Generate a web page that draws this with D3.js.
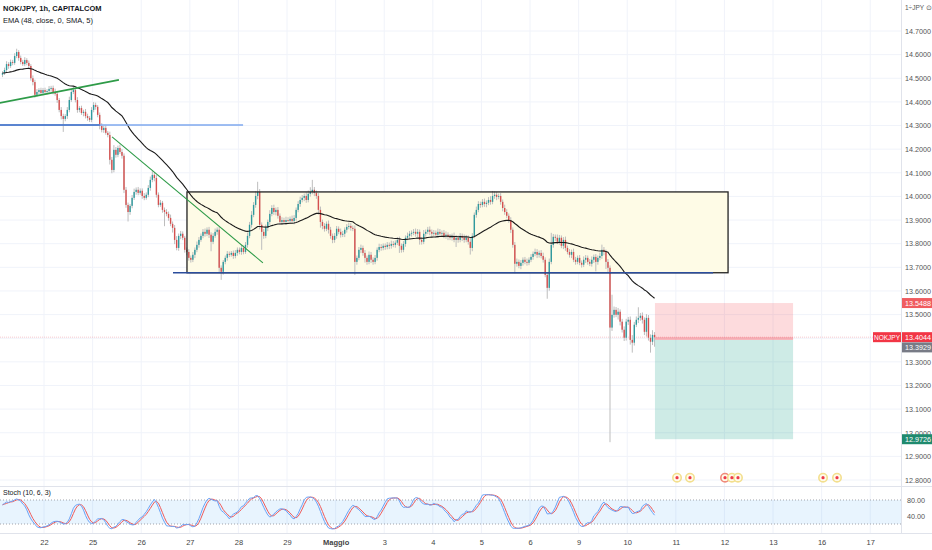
<!DOCTYPE html>
<html>
<head>
<meta charset="utf-8">
<script src="https://cdn.jsdelivr.net/npm/d3@7"></script>
<style>
  body { margin: 0; background: #fff; }
  svg { display: block; font-family: "Liberation Sans", "Noto Sans", sans-serif; }
</style>
</head>
<body>
<script>
// ---- data (hourly candles, one row per trading day) ----
// close of each bar; open = previous close (FX feed)
let closes = [
  14.522,14.535,14.560,14.552,14.569,14.565,14.594,14.611,14.586,14.569,14.560,14.577,14.565,14.552,14.500,14.484,14.430,14.442,14.450,14.438,14.450,
  14.442,14.446,14.455,14.459,14.442,14.434,14.408,14.366,14.340,14.328,14.340,14.366,14.408,14.442,14.450,14.408,14.366,14.374,14.353,14.358,14.340,14.332,14.324,14.366,
  14.387,14.379,14.345,14.298,14.281,14.290,14.269,14.260,14.155,14.112,14.197,14.176,14.205,14.188,14.172,14.028,13.964,13.934,13.960,13.994,14.019,14.028,14.015,14.024,
  14.002,13.994,14.007,14.036,14.070,14.091,14.078,14.007,13.964,13.973,13.943,13.934,13.926,13.909,13.884,13.867,13.816,13.782,13.833,13.842,13.825,13.774,13.765,13.740,
  13.732,13.753,13.774,13.795,13.816,13.833,13.850,13.842,13.859,13.838,13.808,13.833,13.850,13.859,13.698,13.681,13.723,13.740,13.757,13.753,13.761,13.748,13.761,13.774,
  13.765,13.782,13.765,13.795,13.833,13.880,13.922,13.964,14.002,14.019,13.880,13.850,13.833,13.867,13.892,13.926,13.951,13.934,13.943,13.918,13.892,13.900,13.892,13.900,
  13.896,13.905,13.896,13.909,13.943,13.968,13.985,13.994,14.002,13.985,14.011,14.019,14.028,14.015,14.002,13.943,13.892,13.875,13.863,13.884,13.859,13.833,13.816,13.833,
  13.863,13.850,13.838,13.842,13.859,13.871,13.875,13.867,13.863,13.723,13.740,13.774,13.782,13.761,13.740,13.723,13.753,13.732,13.723,13.740,13.774,13.786,13.782,13.791,
  13.786,13.795,13.791,13.799,13.795,13.804,13.816,13.791,13.774,13.799,13.825,13.833,13.842,13.846,13.850,13.842,13.850,13.816,13.808,13.842,13.850,13.859,13.850,13.842,
  13.846,13.838,13.850,13.842,13.846,13.833,13.838,13.829,13.825,13.833,13.816,13.825,13.816,13.833,13.825,13.816,13.825,13.808,13.782,13.833,13.922,13.943,13.968,13.964,
  13.977,13.968,13.973,13.985,13.977,14.002,14.007,13.998,14.002,13.977,13.951,13.934,13.918,13.900,13.859,13.795,13.715,13.723,13.706,13.719,13.732,13.723,13.719,13.732,
  13.744,13.757,13.765,13.753,13.761,13.748,13.732,13.668,13.613,13.723,13.795,13.829,13.825,13.808,13.825,13.791,13.816,13.782,13.765,13.753,13.765,13.732,13.723,13.740,
  13.719,13.711,13.732,13.740,13.723,13.715,13.732,13.744,13.723,13.740,13.748,13.774,13.765,13.723,13.698,13.445,13.499,13.520,13.499,13.512,13.470,13.436,13.402,13.470,
  13.478,13.393,13.381,13.457,13.478,13.486,13.495,13.478,13.427,13.486,13.402,13.385,13.414,13.404
];
let firstOpen = 14.515;
// upper / lower wick length beyond the body, in thousandths of a yen
let upWick = [
  8,10,12,8,10,9,12,14,8,10,9,12,8,10,8,12,10,12,8,10,9,
  10,8,12,9,10,14,10,8,12,10,8,12,14,10,16,10,12,8,10,9,12,10,8,12,
  12,10,8,10,12,9,10,8,14,12,20,12,10,14,12,10,12,10,8,12,14,10,12,10,
  10,12,10,12,14,16,10,12,10,12,8,10,12,10,14,10,12,16,10,12,10,8,10,12,
  10,12,10,14,12,10,12,14,10,12,10,12,14,10,12,10,8,10,12,10,8,10,12,10,
  10,12,10,12,14,12,16,12,20,43,12,10,12,14,10,16,12,14,10,12,10,12,10,14,
  12,10,14,12,10,12,14,12,10,16,14,20,42,12,10,12,14,10,12,10,14,12,10,12,
  12,10,14,12,10,12,14,12,10,14,10,12,14,10,12,10,14,12,10,12,10,14,12,10,
  10,12,10,14,12,10,12,14,10,12,10,14,12,10,12,14,12,10,12,16,10,12,14,10,
  12,10,14,12,10,12,14,10,12,10,14,12,10,12,10,14,12,10,16,12,10,14,12,10,
  12,14,10,12,16,21,14,12,10,12,10,14,12,10,12,10,12,14,10,12,10,12,14,10,
  12,10,14,12,10,12,14,10,12,14,51,12,10,14,12,10,12,14,10,12,10,14,12,10,
  12,10,14,12,10,12,14,10,12,10,14,22,12,10,12,10,85,14,12,16,10,12,14,12,
  12,14,20,12,14,45,12,14,10,16,12,14,20,12
];
let downWick = [
  10,8,9,12,8,10,8,9,12,10,8,9,10,12,10,14,12,8,10,9,10,
  9,10,8,12,10,8,12,10,14,55,10,12,10,8,9,10,12,10,8,14,10,12,9,10,
  10,12,10,14,10,12,8,10,20,14,10,12,10,8,12,14,12,40,12,10,9,12,10,8,
  12,10,8,10,12,10,14,12,10,8,12,60,10,12,10,20,18,10,12,14,10,12,14,12,
  12,10,14,10,12,8,10,12,10,14,40,10,8,12,20,34,12,10,12,10,8,12,10,12,
  10,12,10,8,12,10,12,10,12,14,20,76,12,10,14,12,10,12,14,12,10,12,10,12,
  10,12,10,14,12,10,12,10,14,12,10,12,10,14,12,20,24,14,12,10,16,12,14,12,
  12,10,12,10,14,12,10,12,10,55,12,10,14,12,20,12,10,14,12,10,12,10,12,10,
  12,10,14,12,10,12,10,30,12,10,12,10,14,12,10,12,14,20,12,10,12,10,14,12,
  10,12,14,10,12,10,12,14,10,12,10,30,12,10,14,12,10,12,28,14,10,12,10,12,
  10,12,14,10,12,10,12,14,10,12,14,12,10,12,14,12,40,12,10,14,12,10,12,10,
  10,12,10,14,12,10,12,10,46,12,10,12,14,10,12,10,14,12,10,12,14,10,12,10,
  10,12,10,14,12,10,12,14,40,12,10,12,14,30,20,485,14,12,10,20,16,12,14,12,
  14,20,42,12,10,14,12,16,14,20,12,46,14,40
];

let dayLabels = ['22','25','26','27','28','29','Maggio','3','4','5','6','9','10','11','12','13','16','17'];
let firstDayBar = 21;      // bar index where "22" starts
let barsPerDay = 24;
let priceTicks = [12.8,12.9,13.0,13.1,13.2,13.3,13.4,13.5,13.6,13.7,13.8,13.9,14.0,14.1,14.2,14.3,14.4,14.5,14.6,14.7];
let stochTicks = [80, 40];
let stochBands = [80, 20];

// position tool (short) and last price
let stopPrice = 13.5488;
let entryPrice = 13.3929;
let targetPrice = 12.9726;
let lastPrice = 13.4044;
// events on the calendar (bar index)
let eventBars = [333.1, 339.5, 356.8, 360.2, 363.2, 405.2, 412.1];
let eventRed = [false, false, true, false, false, false, false];

// ---- canvas ----
let width = 932, height = 550;
let plotRight = 901;
let svg = d3.select('body').append('svg').attr('width', width).attr('height', height);

let x = d3.scaleLinear().domain([0, 322]).range([2.5, 2.5 + 322 * 2.025]);
let y = d3.scaleLinear().domain([12.8, 14.7]).range([480, 31]);
let ys = d3.scaleLinear().domain([0, 100]).range([532, 492]);

let opens = closes.map((c, i) => i === 0 ? firstOpen : closes[i - 1]);
let highs = closes.map((c, i) => Math.max(opens[i], c) + upWick[i] / 1000);
let lows = closes.map((c, i) => Math.min(opens[i], c) - downWick[i] / 1000);

// EMA 48
let alpha = 2 / 49;
let e = closes[0];
let ema = closes.map(c => (e = e + alpha * (c - e)));

// Stochastic 10, 6, 3
let rawK = closes.map((c, i) => {
  let s = Math.max(0, i - 9);
  let hh = d3.max(highs.slice(s, i + 1));
  let ll = d3.min(lows.slice(s, i + 1));
  return 100 * (c - ll) / (hh - ll);
});
let sma = (arr, n) => arr.map((v, i) => d3.mean(arr.slice(Math.max(0, i - n + 1), i + 1)));
let kLine = sma(rawK, 6);
let dLine = sma(kLine, 3);

let dayX = dayLabels.map((d, k) => x(firstDayBar + k * barsPerDay) - 1);

// ---- grid ----
let grid = svg.append('g');
grid.selectAll('.hg').data(priceTicks).enter().append('line')
  .attr('x1', 0).attr('x2', plotRight).attr('y1', d => y(d)).attr('y2', d => y(d))
  .attr('stroke', '#f0f3fa');
grid.selectAll('.vg').data(dayX).enter().append('line')
  .attr('x1', d => d).attr('x2', d => d).attr('y1', 0).attr('y2', 533)
  .attr('stroke', '#f0f3fa');

// pane borders
svg.append('line').attr('x1', 0).attr('x2', width).attr('y1', 486.5).attr('y2', 486.5).attr('stroke', '#e0e3eb');
svg.append('line').attr('x1', 0).attr('x2', width).attr('y1', 533.5).attr('y2', 533.5).attr('stroke', '#e0e3eb');
svg.append('line').attr('x1', plotRight + 0.5).attr('x2', plotRight + 0.5).attr('y1', 0).attr('y2', 533).attr('stroke', '#e0e3eb');

// ---- rectangle drawing (range) ----
let rangeTop = 14.019, rangeBottom = 13.677;
svg.append('rect')
  .attr('x', x(91.1)).attr('y', y(rangeTop))
  .attr('width', x(358.3) - x(91.1)).attr('height', y(rangeBottom) - y(rangeTop))
  .attr('fill', '#fefbe6');

// ---- position tool ----
svg.append('rect').attr('x', x(322.2)).attr('width', x(390.4) - x(322.2))
  .attr('y', y(stopPrice)).attr('height', y(entryPrice) - y(stopPrice))
  .attr('fill', 'rgba(242,54,69,0.18)');
svg.append('rect').attr('x', x(322.2)).attr('width', x(390.4) - x(322.2))
  .attr('y', y(entryPrice)).attr('height', y(targetPrice) - y(entryPrice))
  .attr('fill', 'rgba(8,153,129,0.2)');
svg.append('rect').attr('x', x(322.2)).attr('width', x(390.4) - x(322.2))
  .attr('y', y(lastPrice)).attr('height', y(entryPrice) - y(lastPrice))
  .attr('fill', 'rgba(242,54,69,0.25)');

// last price line
svg.append('line').attr('x1', 0).attr('x2', plotRight).attr('y1', y(lastPrice)).attr('y2', y(lastPrice))
  .attr('stroke', 'rgba(242,54,69,0.25)').attr('stroke-dasharray', '1,1');

// ---- candles ----
let candles = svg.append('g');
candles.selectAll('.wick').data(closes).enter().append('line')
  .attr('x1', (d, i) => x(i)).attr('x2', (d, i) => x(i))
  .attr('y1', (d, i) => y(highs[i])).attr('y2', (d, i) => y(lows[i]))
  .attr('stroke', '#bdbdbd').attr('stroke-width', 1);
candles.selectAll('.body').data(closes).enter().append('rect')
  .attr('x', (d, i) => x(i) - 0.7).attr('width', 1.4)
  .attr('y', (d, i) => y(Math.max(opens[i], d)))
  .attr('height', (d, i) => Math.max(0.8, Math.abs(y(opens[i]) - y(d))))
  .attr('fill', (d, i) => d >= opens[i] ? '#2f9a9e' : '#d5504f');

// EMA
svg.append('path').datum(ema)
  .attr('d', d3.line().x((d, i) => x(i)).y(d => y(d)))
  .attr('fill', 'none').attr('stroke', '#1a1a1a').attr('stroke-width', 1.1);

// rectangle border and lines
svg.append('rect')
  .attr('x', x(91.1)).attr('y', y(rangeTop))
  .attr('width', x(358.3) - x(91.1)).attr('height', y(rangeBottom) - y(rangeTop))
  .attr('fill', 'none').attr('stroke', '#222').attr('stroke-width', 1.3);
svg.append('line').attr('x1', x(84.2)).attr('x2', x(350.9)).attr('y1', y(rangeBottom)).attr('y2', y(rangeBottom))
  .attr('stroke', '#2b4d9c').attr('stroke-width', 1.6);
svg.append('line').attr('x1', x(-1.3)).attr('x2', x(118.8)).attr('y1', y(14.3025)).attr('y2', y(14.3025))
  .attr('stroke', '#7fa8ee').attr('stroke-width', 1.4);
svg.append('line').attr('x1', x(-1.3)).attr('x2', x(48)).attr('y1', y(14.3025)).attr('y2', y(14.3025))
  .attr('stroke', '#4572c4').attr('stroke-width', 1.4);
svg.append('line').attr('x1', x(-1.3)).attr('x2', x(57.5)).attr('y1', y(14.396)).attr('y2', y(14.493))
  .attr('stroke', '#2e9b48').attr('stroke-width', 1.8);
svg.append('line').attr('x1', x(54.1)).attr('x2', x(128.6)).attr('y1', y(14.252)).attr('y2', y(13.719))
  .attr('stroke', '#2e9b48').attr('stroke-width', 1.1);

// ---- events ----
let ev = svg.append('g');
ev.selectAll('circle.o').data(eventBars).enter().append('circle')
  .attr('cx', d => x(d)).attr('cy', 477.7).attr('r', 4.2)
  .attr('fill', '#fffbea').attr('stroke', (d, i) => eventRed[i] ? '#f08a7a' : '#f3df8e').attr('stroke-width', 1.6);
ev.selectAll('circle.i').data(eventBars).enter().append('circle')
  .attr('cx', d => x(d)).attr('cy', 477.7).attr('r', 1.6).attr('fill', '#ee3b4a');

// ---- stochastic pane ----
svg.append('rect').attr('x', 0).attr('width', plotRight).attr('y', ys(stochBands[0])).attr('height', ys(stochBands[1]) - ys(stochBands[0]))
  .attr('fill', 'rgba(33,150,243,0.1)');
svg.selectAll('.band').data(stochBands).enter().append('line')
  .attr('x1', 0).attr('x2', plotRight).attr('y1', d => ys(d)).attr('y2', d => ys(d))
  .attr('stroke', '#a0a3ab').attr('stroke-dasharray', '1,2');
svg.append('path').datum(dLine)
  .attr('d', d3.line().x((d, i) => x(i)).y(d => ys(d)))
  .attr('fill', 'none').attr('stroke', '#ef5a5a').attr('stroke-width', 1);
svg.append('path').datum(kLine)
  .attr('d', d3.line().x((d, i) => x(i)).y(d => ys(d)))
  .attr('fill', 'none').attr('stroke', '#6aa3f7').attr('stroke-width', 1);

// ---- axes ----
let axisFont = (sel) => sel.selectAll('text').attr('font-size', 7.2).attr('fill', '#555')
  .attr('font-family', '"Liberation Sans", sans-serif');

let priceAxis = svg.append('g').attr('transform', `translate(${plotRight},0)`)
  .call(d3.axisRight(y).tickValues(priceTicks).tickFormat(d3.format('.4f')).tickSize(0).tickPadding(4));
priceAxis.select('.domain').remove();
axisFont(priceAxis);

let stochAxis = svg.append('g').attr('transform', `translate(${plotRight},0)`)
  .call(d3.axisRight(ys).tickValues(stochTicks).tickFormat(d3.format('.2f')).tickSize(0).tickPadding(6));
stochAxis.select('.domain').remove();
axisFont(stochAxis);

let timeAxis = svg.append('g').attr('transform', 'translate(0,536)')
  .call(d3.axisBottom(d3.scaleIdentity()).tickValues(dayX).tickFormat((d, i) => dayLabels[i]).tickSize(0).tickPadding(4));
timeAxis.select('.domain').remove();
timeAxis.selectAll('text').attr('font-size', 7.5).attr('fill', '#444').attr('font-family', '"Liberation Sans", sans-serif')
  .attr('font-weight', (d, i) => dayLabels[i] === 'Maggio' ? 700 : 400);

// ---- price labels on the axis ----
let tag = (price, text, fill, dy) => {
  let yy = y(price) + (dy || 0);
  svg.append('rect').attr('x', plotRight + 1).attr('y', yy - 5).attr('width', width - plotRight - 1).attr('height', 10).attr('fill', fill);
  svg.append('text').attr('x', plotRight + 4).attr('y', yy + 2.6).attr('font-size', 7.2).attr('fill', '#fff').text(text);
};
tag(stopPrice, '13.5488', '#f05b5f');
tag(lastPrice, '13.4044', '#f23645');
tag(entryPrice, '13.3929', '#787b86', 7.5);
tag(targetPrice, '12.9726', '#1f8a6e');
svg.append('rect').attr('x', 873).attr('y', y(lastPrice) - 5).attr('width', 28).attr('height', 10).attr('fill', '#f23645');
svg.append('text').attr('x', 887).attr('y', y(lastPrice) + 2.5).attr('font-size', 6.5).attr('fill', '#fff')
  .attr('text-anchor', 'middle').text('NOKJPY');

// ---- legend ----
svg.append('text').attr('x', 3).attr('y', 11).attr('font-size', 7.5).attr('font-weight', 700).attr('fill', '#131722')
  .text('NOK/JPY, 1h, CAPITALCOM');
svg.append('text').attr('x', 3).attr('y', 23).attr('font-size', 7.5).attr('fill', '#131722')
  .text('EMA (48, close, 0, SMA, 5)');
svg.append('text').attr('x', 3).attr('y', 495).attr('font-size', 7).attr('fill', '#131722')
  .text('Stoch (10, 6, 3)');
svg.append('text').attr('x', 905).attr('y', 10).attr('font-size', 6.5).attr('fill', '#555')
  .text('1÷JPY ⊙');
</script>
</body>
</html>
